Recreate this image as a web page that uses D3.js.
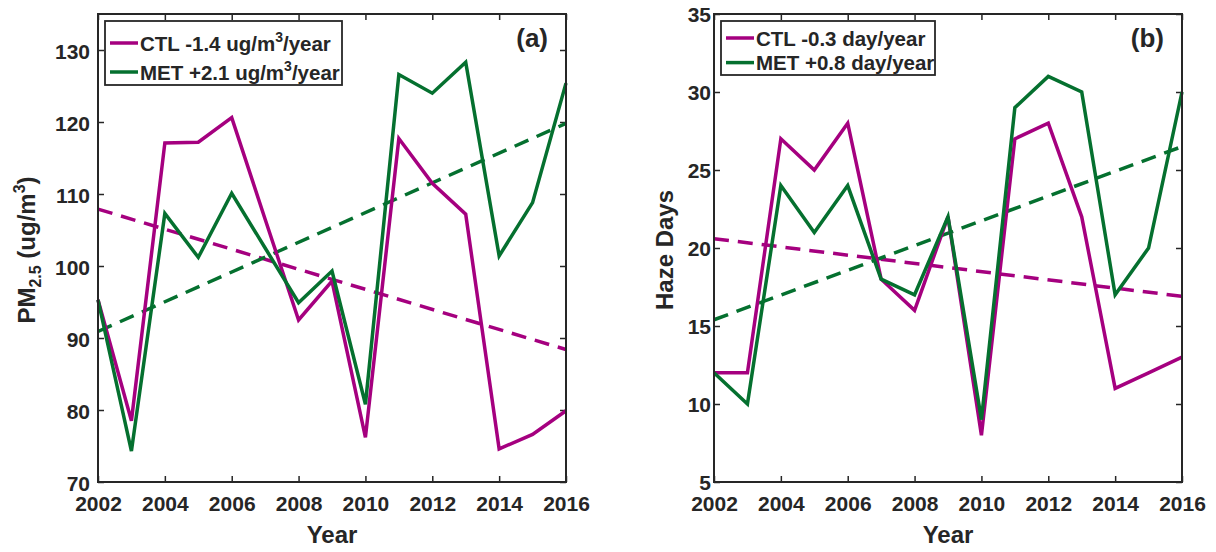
<!DOCTYPE html>
<html>
<head>
<meta charset="utf-8">
<script src="https://cdn.jsdelivr.net/npm/d3@7"></script>
<style>
  html, body { margin: 0; padding: 0; background: #fff; }
  svg { display: block; }
  text { font-family: "Liberation Sans", Arial, sans-serif; font-weight: bold; fill: #262626; }
</style>
</head>
<body>
<div id="chart"></div>
<script>
// data
var years = [2002, 2003, 2004, 2005, 2006, 2007, 2008, 2009, 2010, 2011, 2012, 2013, 2014, 2015, 2016];
var yearTicks = [2002, 2004, 2006, 2008, 2010, 2012, 2014, 2016];

var pmCTL = [95.3, 78.5, 117.1, 117.2, 120.6, 106.5, 92.5, 97.9, 76.2, 117.7, 111.5, 107.2, 74.6, 76.6, 79.9];
var pmMET = [95.3, 74.3, 107.3, 101.2, 110.1, 102.5, 94.9, 99.3, 80.8, 126.6, 124.0, 128.3, 101.4, 108.8, 125.4];
var pmTrendCTL = [107.9, 88.4];   // value at 2002, 2016
var pmTrendMET = [90.9, 119.8];
var pmTicks = [70, 80, 90, 100, 110, 120, 130];

var hazeCTL = [12, 12, 27, 25, 28, 18, 16, 22, 8, 27, 28, 22, 11, 12, 13];
var hazeMET = [12, 10, 24, 21, 24, 18, 17, 22, 9, 29, 31, 30, 17, 20, 30];
var hazeTrendCTL = [20.6, 16.9];
var hazeTrendMET = [15.4, 26.5];
var hazeTicks = [5, 10, 15, 20, 25, 30, 35];

var ctlColor = "#A5007F";
var metColor = "#05702F";
var axisColor = "#262626";

var W = 1216, H = 552;
var svg = d3.select("#chart").append("svg")
    .attr("width", W)
    .attr("height", H);

function styleAxis(a, withText) {
    a.select(".domain").remove();
    a.selectAll("line").attr("stroke", axisColor).attr("stroke-width", 1.5);
    if (withText) a.selectAll("text").attr("font-size", 21).attr("fill", axisColor).attr("font-family", null);
}

function drawPanel(p) {
    var x = d3.scaleLinear().domain([2002, 2016]).range([p.left, p.left + 468]);
    var y = d3.scaleLinear().domain(p.domain).range([482, 14]);
    var g = svg.append("g");

    // box + ticks, inward on all four sides
    var tl = 6;
    g.append("g").attr("transform", "translate(0,482)")
        .call(d3.axisBottom(x).tickValues(yearTicks).tickFormat(d3.format("d")).tickSizeInner(-tl).tickSizeOuter(0).tickPadding(14.5))
        .call(function(a){ styleAxis(a, true); });
    g.append("g").attr("transform", "translate(0,14)")
        .call(d3.axisTop(x).tickValues(yearTicks).tickFormat("").tickSizeInner(-tl).tickSizeOuter(0))
        .call(function(a){ styleAxis(a, false); });
    g.append("g").attr("transform", "translate(" + p.left + ",0)")
        .call(d3.axisLeft(y).tickValues(p.ticks).tickSizeInner(-tl).tickSizeOuter(0).tickPadding(p.tickPad))
        .call(function(a){ styleAxis(a, true); a.selectAll("text").attr("dy", p.tickDy); });
    g.append("g").attr("transform", "translate(" + (p.left + 468) + ",0)")
        .call(d3.axisRight(y).tickValues(p.ticks).tickFormat("").tickSizeInner(-tl).tickSizeOuter(0))
        .call(function(a){ styleAxis(a, false); });

    // lines
    var line = d3.line().x(function(d, i){ return x(years[i]); }).y(function(d){ return y(d); });
    var trend = d3.line().x(function(d, i){ return x(i === 0 ? years[0] : years[years.length - 1]); }).y(function(d){ return y(d); });

    g.append("path").attr("d", trend(p.trendCTL)).attr("fill", "none")
        .attr("stroke", ctlColor).attr("stroke-width", 3.5).attr("stroke-dasharray", "15,9");
    g.append("path").attr("d", trend(p.trendMET)).attr("fill", "none")
        .attr("stroke", metColor).attr("stroke-width", 3.5).attr("stroke-dasharray", "15,9");
    g.append("path").attr("d", line(p.ctl)).attr("fill", "none")
        .attr("stroke", ctlColor).attr("stroke-width", 3.5).attr("stroke-linejoin", "miter");
    g.append("path").attr("d", line(p.met)).attr("fill", "none")
        .attr("stroke", metColor).attr("stroke-width", 3.5).attr("stroke-linejoin", "miter");

    g.append("rect")
        .attr("x", p.left).attr("y", 14).attr("width", 468).attr("height", 468)
        .attr("fill", "none").attr("stroke", axisColor).attr("stroke-width", 2);

    // legend
    var lg = p.legend;
    g.append("rect").attr("x", lg.x).attr("y", lg.y).attr("width", lg.w).attr("height", lg.h)
        .attr("fill", "#fff").attr("stroke", axisColor).attr("stroke-width", 1.8);
    var items = [{c: ctlColor, t: lg.labels[0]}, {c: metColor, t: lg.labels[1]}];
    items.forEach(function(it, i){
        var cy = lg.row0 + i * lg.gap;
        g.append("line").attr("x1", lg.x + 5).attr("x2", lg.x + 33).attr("y1", cy).attr("y2", cy)
            .attr("stroke", it.c).attr("stroke-width", 3.5);
        var t = g.append("text").attr("x", lg.x + 35).attr("y", cy + 7.5).attr("font-size", 20.5);
        it.t.forEach(function(part){
            var ts = t.append("tspan").text(part.s);
            if (part.sup) ts.attr("font-size", 14).attr("dy", -9);
            if (part.after) ts.attr("dy", 9);
        });
    });

    // panel tag
    g.append("text").attr("x", p.left + 468 - 18).attr("y", 47).attr("text-anchor", "end")
        .attr("font-size", 26).text(p.tag);

    // axis titles
    g.append("text").attr("x", p.left + 234).attr("y", 543).attr("text-anchor", "middle")
        .attr("font-size", 24).text("Year");
    var yl = g.append("text").attr("transform", "translate(" + p.ylabelX + ",250) rotate(-90)")
        .attr("text-anchor", "middle").attr("font-size", 24);
    p.ylabel.forEach(function(part){
        var ts = yl.append("tspan").text(part.s);
        if (part.sub) ts.attr("font-size", 16).attr("dy", 6);
        if (part.sup) ts.attr("font-size", 16).attr("dy", part.dy);
        if (part.dy2) ts.attr("dy", part.dy2);
    });
}

drawPanel({
    left: 98, domain: [70, 135], ticks: pmTicks, tickPad: 8, tickDy: "0.42em",
    ctl: pmCTL, met: pmMET, trendCTL: pmTrendCTL, trendMET: pmTrendMET,
    tag: "(a)", ylabelX: 35,
    ylabel: [{s: "PM"}, {s: "2.5", sub: true}, {s: " (ug/m", dy2: -6}, {s: "3", sup: true, dy: -10}, {s: ")", dy2: 10}],
    legend: {
        x: 105, y: 21, w: 237, h: 64, row0: 43, gap: 29,
        labels: [
            [{s: "CTL -1.4 ug/m"}, {s: "3", sup: true}, {s: "/year", after: true}],
            [{s: "MET +2.1 ug/m"}, {s: "3", sup: true}, {s: "/year", after: true}]
        ]
    }
});

drawPanel({
    left: 714, domain: [5, 35], ticks: hazeTicks, tickPad: 3, tickDy: "0.34em",
    ctl: hazeCTL, met: hazeMET, trendCTL: hazeTrendCTL, trendMET: hazeTrendMET,
    tag: "(b)", ylabelX: 673,
    ylabel: [{s: "Haze Days"}],
    legend: {
        x: 721, y: 21, w: 214, h: 54, row0: 38, gap: 24.6,
        labels: [
            [{s: "CTL -0.3 day/year"}],
            [{s: "MET +0.8 day/year"}]
        ]
    }
});
</script>
</body>
</html>
